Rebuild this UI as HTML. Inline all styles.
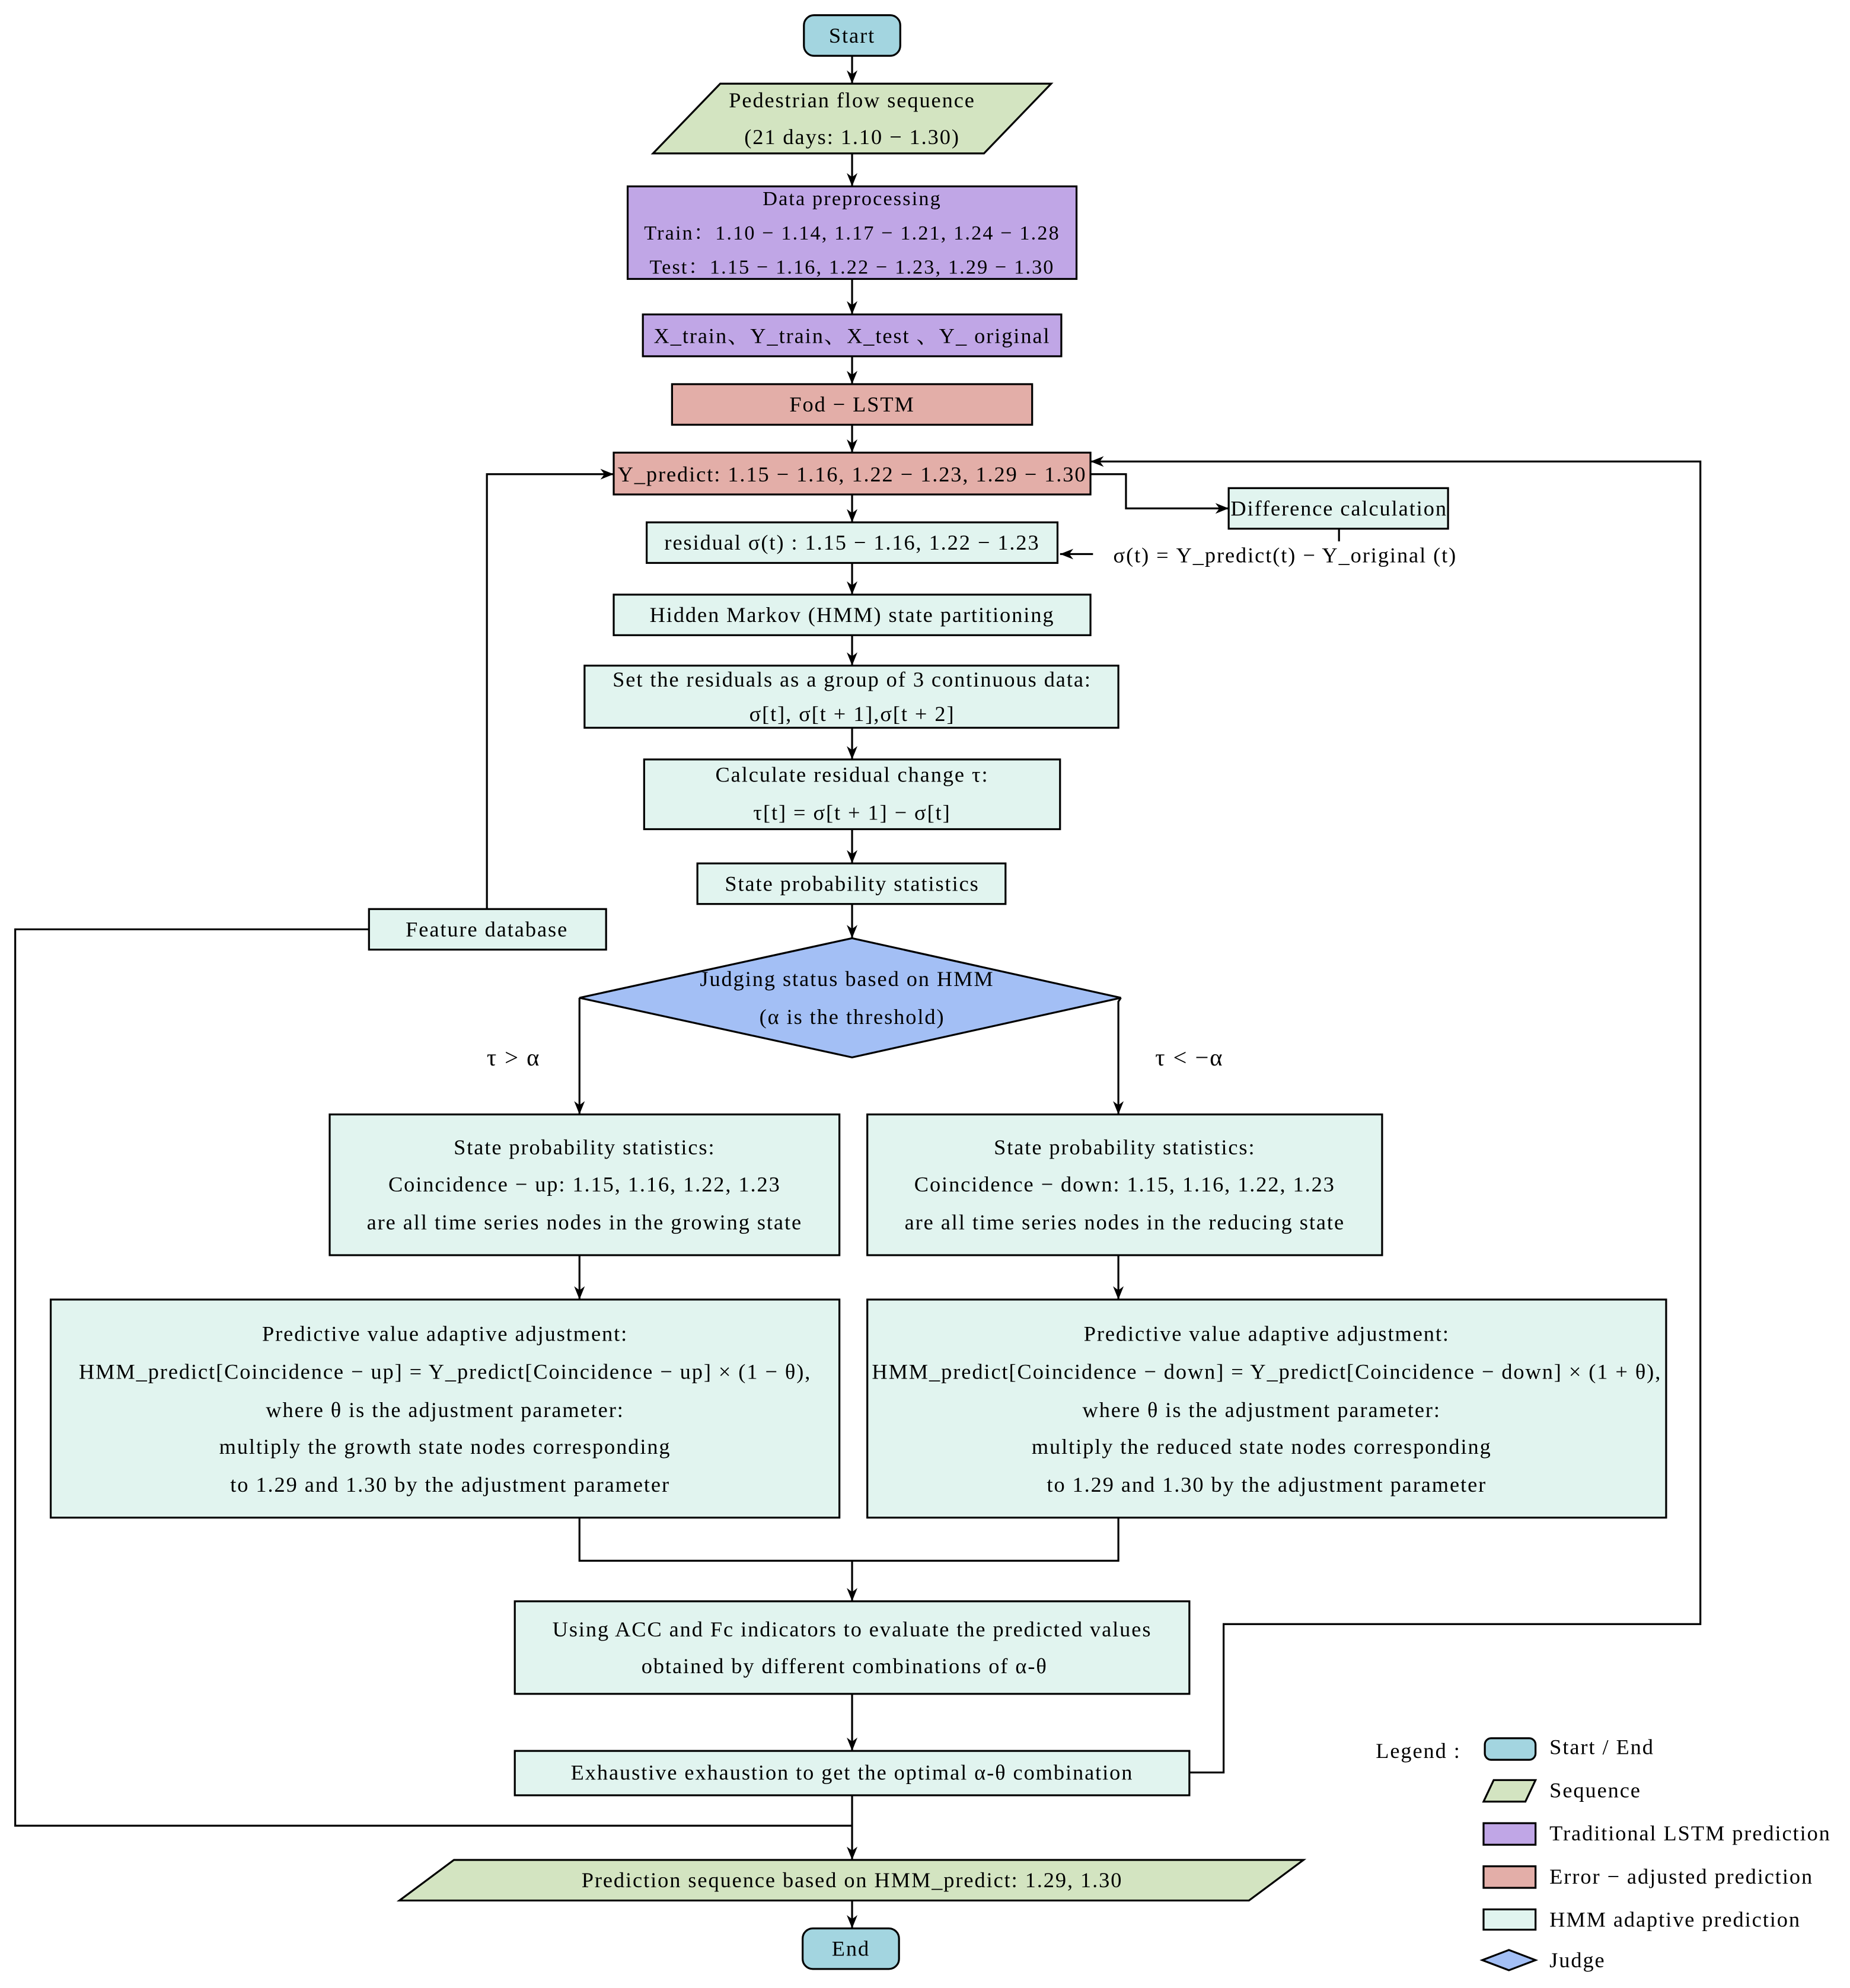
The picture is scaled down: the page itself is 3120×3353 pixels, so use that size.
<!DOCTYPE html>
<html><head><meta charset="utf-8"><style>
html,body{margin:0;padding:0;background:#fff}
svg{display:block}
text{font-family:"Liberation Serif","Noto Serif CJK SC",serif;font-size:17px;letter-spacing:0.9px;fill:#000;dominant-baseline:central}
.c{text-anchor:middle}
.s{font-size:16px;letter-spacing:1px}
</style></head><body>
<svg width="3120" height="3353" viewBox="0 0 1459 1568" preserveAspectRatio="none" xmlns="http://www.w3.org/2000/svg">
<defs><marker id="a" viewBox="0 0 10 10" refX="10" refY="5" markerWidth="7" markerHeight="7" orient="auto-start-reverse"><path d="M0,1 L10,5 L0,9 L3,5 z" fill="#000"/></marker></defs>
<g stroke="#000" stroke-width="1.5" fill="none">
<line x1="672" y1="44" x2="672" y2="66" marker-end="url(#a)"/>
<line x1="672" y1="121" x2="672" y2="147" marker-end="url(#a)"/>
<line x1="672" y1="220" x2="672" y2="248" marker-end="url(#a)"/>
<line x1="672" y1="281" x2="672" y2="303" marker-end="url(#a)"/>
<line x1="672" y1="335" x2="672" y2="357" marker-end="url(#a)"/>
<line x1="672" y1="390" x2="672" y2="412" marker-end="url(#a)"/>
<line x1="672" y1="444" x2="672" y2="469" marker-end="url(#a)"/>
<line x1="672" y1="501" x2="672" y2="525" marker-end="url(#a)"/>
<line x1="672" y1="574" x2="672" y2="599" marker-end="url(#a)"/>
<line x1="672" y1="654" x2="672" y2="681" marker-end="url(#a)"/>
<line x1="672" y1="713" x2="672" y2="740" marker-end="url(#a)"/>
<polyline points="860,374 888,374 888,401 969,401" marker-end="url(#a)"/>
<line x1="1056" y1="417" x2="1056" y2="427"/>
<line x1="862" y1="437" x2="836" y2="437" marker-end="url(#a)"/>
<polyline points="384,717 384,374 484,374" marker-end="url(#a)"/>
<polyline points="291,733 12,733 12,1440 672,1440"/>
<polyline points="457,787 457,879" marker-end="url(#a)"/>
<polyline points="884,787 882,790 882,879" marker-end="url(#a)"/>
<line x1="457" y1="990" x2="457" y2="1025" marker-end="url(#a)"/>
<line x1="882" y1="990" x2="882" y2="1025" marker-end="url(#a)"/>
<polyline points="457,1197 457,1231 882,1231 882,1197"/>
<line x1="672" y1="1231" x2="672" y2="1263" marker-end="url(#a)"/>
<line x1="672" y1="1336" x2="672" y2="1381" marker-end="url(#a)"/>
<polyline points="938,1398 965,1398 965,1281 1341,1281 1341,364 860,364" marker-end="url(#a)"/>
<line x1="672" y1="1416" x2="672" y2="1467" marker-end="url(#a)"/>
<line x1="672" y1="1499" x2="672" y2="1521" marker-end="url(#a)"/>
</g>
<g stroke="#000" stroke-width="1.5">
<rect x="634" y="12" width="76" height="32" rx="8" fill="#a3d5e0"/>
<polygon points="568,66 829,66 776,121 515,121" fill="#d3e4c1"/>
<rect x="495" y="147" width="354" height="73" fill="#c0a6e6"/>
<rect x="507" y="248" width="330" height="33" fill="#c0a6e6"/>
<rect x="530" y="303" width="284" height="32" fill="#e3aea8"/>
<rect x="484" y="357" width="376" height="33" fill="#e3aea8"/>
<rect x="510" y="412" width="324" height="32" fill="#e1f4ef"/>
<rect x="969" y="385" width="173" height="32" fill="#e1f4ef"/>
<rect x="484" y="469" width="376" height="32" fill="#e1f4ef"/>
<rect x="461" y="525" width="421" height="49" fill="#e1f4ef"/>
<rect x="508" y="599" width="328" height="55" fill="#e1f4ef"/>
<rect x="550" y="681" width="243" height="32" fill="#e1f4ef"/>
<rect x="291" y="717" width="187" height="32" fill="#e1f4ef"/>
<polygon points="672,740 884,787 672,834 457,787" fill="#a3bff5"/>
<rect x="260" y="879" width="402" height="111" fill="#e1f4ef"/>
<rect x="684" y="879" width="406" height="111" fill="#e1f4ef"/>
<rect x="40" y="1025" width="622" height="172" fill="#e1f4ef"/>
<rect x="684" y="1025" width="630" height="172" fill="#e1f4ef"/>
<rect x="406" y="1263" width="532" height="73" fill="#e1f4ef"/>
<rect x="406" y="1381" width="532" height="35" fill="#e1f4ef"/>
<polygon points="358,1467 1028,1467 985,1499 315,1499" fill="#d3e4c1"/>
<rect x="633" y="1521" width="76" height="32" rx="8" fill="#a3d5e0"/>
<rect x="1171" y="1371" width="40" height="17" rx="5" fill="#a3d5e0"/>
<polygon points="1178,1404 1211,1404 1203,1421 1170,1421" fill="#d3e4c1"/>
<rect x="1170" y="1438" width="41" height="17" fill="#c0a6e6"/>
<rect x="1170" y="1472" width="41" height="17" fill="#e3aea8"/>
<rect x="1170" y="1506" width="41" height="16" fill="#e1f4ef"/>
<polygon points="1190,1538 1211,1546 1190,1554 1169,1546" fill="#a3bff5"/>
</g>
<text class="c" x="672" y="28">Start</text>
<text class="c" x="672" y="79">Pedestrian flow sequence</text>
<text class="c" x="672" y="108">(21 days: 1.10 − 1.30)</text>
<text class="c s" x="672" y="157">Data preprocessing</text>
<text class="c s" x="672" y="184">Train：1.10 − 1.14, 1.17 − 1.21, 1.24 − 1.28</text>
<text class="c s" x="672" y="211">Test：1.15 − 1.16, 1.22 − 1.23, 1.29 − 1.30</text>
<text class="c" x="672" y="265">X_train、Y_train、X_test 、Y_ original</text>
<text class="c" x="672" y="319">Fod − LSTM</text>
<text class="c" x="672" y="374">Y_predict: 1.15 − 1.16, 1.22 − 1.23, 1.29 − 1.30</text>
<text class="c" x="672" y="428">residual σ(t) : 1.15 − 1.16, 1.22 − 1.23</text>
<text class="c" x="1056" y="401">Difference calculation</text>
<text x="878" y="438">σ(t) = Y_predict(t) − Y_original (t)</text>
<text class="c" x="672" y="485">Hidden Markov (HMM) state partitioning</text>
<text class="c" x="672" y="536">Set the residuals as a group of 3 continuous data:</text>
<text class="c" x="672" y="563">σ[t], σ[t + 1],σ[t + 2]</text>
<text class="c" x="672" y="611">Calculate residual change τ:</text>
<text class="c" x="672" y="641">τ[t] = σ[t + 1] − σ[t]</text>
<text class="c" x="672" y="697">State probability statistics</text>
<text class="c" x="384" y="733">Feature database</text>
<text class="c" x="668" y="772">Judging status based on HMM</text>
<text class="c" x="672" y="802">(α is the threshold)</text>
<text class="c" x="405" y="834" style="font-size:19px">τ &gt; α</text>
<text class="c" x="938" y="834" style="font-size:19px">τ &lt; −α</text>
<text class="c" x="461" y="905">State probability statistics:</text>
<text class="c" x="461" y="934">Coincidence − up: 1.15, 1.16, 1.22, 1.23</text>
<text class="c" x="461" y="964">are all time series nodes in the growing state</text>
<text class="c" x="887" y="905">State probability statistics:</text>
<text class="c" x="887" y="934">Coincidence − down: 1.15, 1.16, 1.22, 1.23</text>
<text class="c" x="887" y="964">are all time series nodes in the reducing state</text>
<text class="c" x="351" y="1052">Predictive value adaptive adjustment:</text>
<text class="c" x="351" y="1082">HMM_predict[Coincidence − up] =  Y_predict[Coincidence − up] × (1 − θ),</text>
<text class="c" x="351" y="1112">where θ is the adjustment parameter:</text>
<text class="c" x="351" y="1141">multiply the growth state nodes corresponding</text>
<text class="c" x="355" y="1171">to 1.29 and 1.30 by the adjustment parameter</text>
<text class="c" x="999" y="1052">Predictive value adaptive adjustment:</text>
<text class="c" x="999" y="1082">HMM_predict[Coincidence − down] =  Y_predict[Coincidence − down] × (1 + θ),</text>
<text class="c" x="995" y="1112">where θ is the adjustment parameter:</text>
<text class="c" x="995" y="1141">multiply the reduced state nodes corresponding</text>
<text class="c" x="999" y="1171">to 1.29 and 1.30 by the adjustment parameter</text>
<text class="c" x="672" y="1285">Using ACC and Fc indicators to evaluate the predicted values</text>
<text class="c" x="666" y="1314">obtained by different combinations of α-θ</text>
<text class="c" x="672" y="1398">Exhaustive exhaustion to get the optimal α-θ combination</text>
<text class="c" x="672" y="1483">Prediction sequence based on HMM_predict: 1.29, 1.30</text>
<text class="c" x="671" y="1537">End</text>
<text x="1085" y="1381">Legend :</text>
<text x="1222" y="1378">Start / End</text>
<text x="1222" y="1412">Sequence</text>
<text x="1222" y="1446">Traditional LSTM prediction</text>
<text x="1222" y="1480">Error − adjusted prediction</text>
<text x="1222" y="1514">HMM adaptive prediction</text>
<text x="1222" y="1546">Judge</text>
</svg>
</body></html>
